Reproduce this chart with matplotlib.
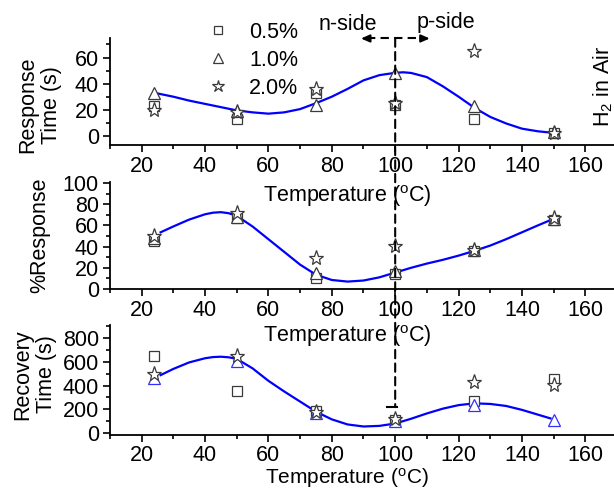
import matplotlib
matplotlib.use("Agg")
import matplotlib.pyplot as plt
from matplotlib.lines import Line2D
from matplotlib.patches import ConnectionPatch
from matplotlib.ticker import MultipleLocator

plt.rcParams['font.family'] = ['Liberation Sans', 'DejaVu Sans']
plt.rcParams['mathtext.fontset'] = 'custom'
plt.rcParams['mathtext.rm'] = 'Liberation Sans'
plt.rcParams['mathtext.it'] = 'Liberation Sans'

# temperatures (C)
temps = [24, 50, 75, 100, 125, 150]
labels = ["0.5%", "1.0%", "2.0%"]

# response time (s)
resp_time_05 = [23, 13, 33, 24, 13, 2]
resp_time_10 = [33, 19, 24, 48, 23, 3]
resp_time_20 = [20, 18, 36, 25, 65, 2]

# % response
pct_resp_05 = [45, 67, 10, 14, 36, 65]
pct_resp_10 = [48, 68, 15, 17, 37, 66]
pct_resp_20 = [50, 72, 29, 41, 37, 67]

# recovery time (s)
rec_time_05 = [645, 350, 185, 110, 270, 455]
rec_time_10 = [460, 610, 165, 100, 240, 110]
rec_time_20 = [495, 650, 180, 115, 430, 405]

# blue guide curves
curve_x = [24, 30, 35, 40, 45, 50, 55, 60, 65, 70, 75, 80, 85, 90, 95,
           100, 102.5, 105, 110, 115, 120, 125, 130, 135, 140, 145, 149]
curve_resp = [33, 30, 27, 24.5, 22, 19.5, 18, 17, 18, 20.5, 25, 30, 36, 42.5, 46.5,
              48.3, 48.7, 48.2, 45, 38, 30, 21.5, 14.5, 9.5, 5.5, 3.5, 2.5]
curve_x2 = [26, 30, 35, 40, 42.5, 45, 47.5, 50, 55, 60, 65, 70, 75, 80, 85, 90, 95,
            100, 105, 110, 115, 120, 125, 130, 135, 140, 145, 149]
curve_pct = [53.5, 59, 65.5, 70.5, 72, 72.5, 71.5, 69, 59, 47, 35, 23, 13.5, 8.5, 7, 8, 11,
             15.5, 20, 24, 27.5, 31.5, 36, 41, 47, 53.5, 60, 65]
curve_rec = [488, 540, 595, 630, 640, 643, 638, 625, 545, 440, 350, 265, 180, 115, 72, 55, 60,
             80, 120, 165, 205, 235, 250, 245, 228, 195, 155, 123]

FS = 15.5
GRAY = '#3a3a3a'
BLUE = '#0000ff'

fig = plt.figure(figsize=(6.14, 4.91), dpi=100)
left, width = 0.179, 0.826
ax1 = fig.add_axes([left, 0.7047, width, 0.218])
ax2 = fig.add_axes([left, 0.4114, width, 0.218])
ax3 = fig.add_axes([left, 0.114, width, 0.224])


def style(ax, ylim, ymaj, ymin, xlab_y, xpad=3, xlab_fs=FS):
    ax.set_xlim(10, 170)
    ax.set_ylim(*ylim)
    ax.spines['top'].set_visible(False)
    ax.spines['right'].set_visible(False)
    for s in ['left', 'bottom']:
        ax.spines[s].set_linewidth(1.3)
    ax.xaxis.set_major_locator(MultipleLocator(20))
    ax.xaxis.set_minor_locator(MultipleLocator(10))
    ax.yaxis.set_major_locator(MultipleLocator(ymaj))
    ax.yaxis.set_minor_locator(MultipleLocator(ymin))
    ax.tick_params(which='major', direction='out', length=5, width=1.2, labelsize=FS, pad=3)
    ax.tick_params(axis='x', which='major', pad=xpad)
    ax.tick_params(which='minor', direction='out', length=3, width=1.2)
    ax.set_xlabel(r'Temperature ($^{\rm o}$C)', fontsize=xlab_fs)
    ax.xaxis.set_label_coords(0.468, xlab_y)
    ax.patch.set_alpha(0)


def draw(ax, cx, cy, y05, y10, y20, tri_col):
    ax.plot(cx, cy, color=BLUE, lw=1.6, zorder=2)
    ax.plot(temps, y05, 's', ms=7.5, mfc='white', mec=GRAY, mew=0.9, zorder=3)
    ax.plot(temps, y10, '^', ms=9, mfc='white', mec=tri_col, mew=0.9, zorder=3)
    ax.plot(temps, y20, '*', ms=11, mfc='white', mec=GRAY, mew=0.9, zorder=4)


style(ax1, (-7, 75), 20, 10, -0.355)
style(ax2, (0, 101), 20, 10, -0.32)
style(ax3, (-17, 910), 200, 100, -0.285, xpad=2, xlab_fs=15)

draw(ax1, curve_x, curve_resp, resp_time_05, resp_time_10, resp_time_20, GRAY)
draw(ax2, curve_x2, curve_pct, pct_resp_05, pct_resp_10, pct_resp_20, GRAY)
draw(ax3, curve_x2, curve_rec, rec_time_05, rec_time_10, rec_time_20, '#3030ff')

ax1.set_ylabel('Response\nTime (s)', fontsize=FS, linespacing=1.15)
ax1.yaxis.set_label_coords(-0.095, 0.374)
ax2.set_ylabel('%Response', fontsize=FS)
ax2.yaxis.set_label_coords(-0.118, 0.5)
ax3.set_ylabel('Recovery\nTime (s)', fontsize=FS, linespacing=1.15)
ax3.yaxis.set_label_coords(-0.105, 0.55)

# legend
handles = [
    Line2D([], [], ls='none', marker='s', ms=7.5, mfc='white', mec=GRAY, mew=0.9),
    Line2D([], [], ls='none', marker='^', ms=9, mfc='white', mec=GRAY, mew=0.9),
    Line2D([], [], ls='none', marker='*', ms=11, mfc='white', mec=GRAY, mew=0.9),
]
fig.legend(handles, labels, loc='upper left', bbox_to_anchor=(0.338, 0.956),
           frameon=False, fontsize=FS, handlelength=1.0, handletextpad=0.93,
           labelspacing=0.33, borderpad=0, borderaxespad=0, markerscale=0.85)

# n-side / p-side divider
ax1.text(84.9, 85.5, 'n-side', fontsize=FS, ha='center', va='center')
ax1.text(116, 87, 'p-side', fontsize=FS, ha='center', va='center')
ytop = 74.6
ax1.plot([91, 109], [ytop, ytop], color='k', lw=1.5, ls=(0, (4, 2.5)), clip_on=False)
for x0, x1 in [(92, 89.2), (108, 110.9)]:
    ax1.annotate('', xy=(x1, ytop), xytext=(x0, ytop), annotation_clip=False,
                 arrowprops=dict(arrowstyle='-|>,head_length=0.5,head_width=0.22',
                                 color='k', lw=1.5, shrinkA=0, shrinkB=0))

con = ConnectionPatch(xyA=(100, ytop), coordsA=ax1.transData,
                      xyB=(100, 219), coordsB=ax3.transData,
                      color='k', lw=1.5, linestyle=(0, (4, 2.5)), zorder=5)
fig.add_artist(con)
ax3.plot([97.5, 100.7], [219, 219], color='k', lw=1.5, clip_on=False)

ax1.text(0.972, 0.545, r'H$_2$ in Air', transform=ax1.transAxes, rotation=90,
         fontsize=FS, ha='center', va='center')

fig.savefig('out.png', dpi=100)
